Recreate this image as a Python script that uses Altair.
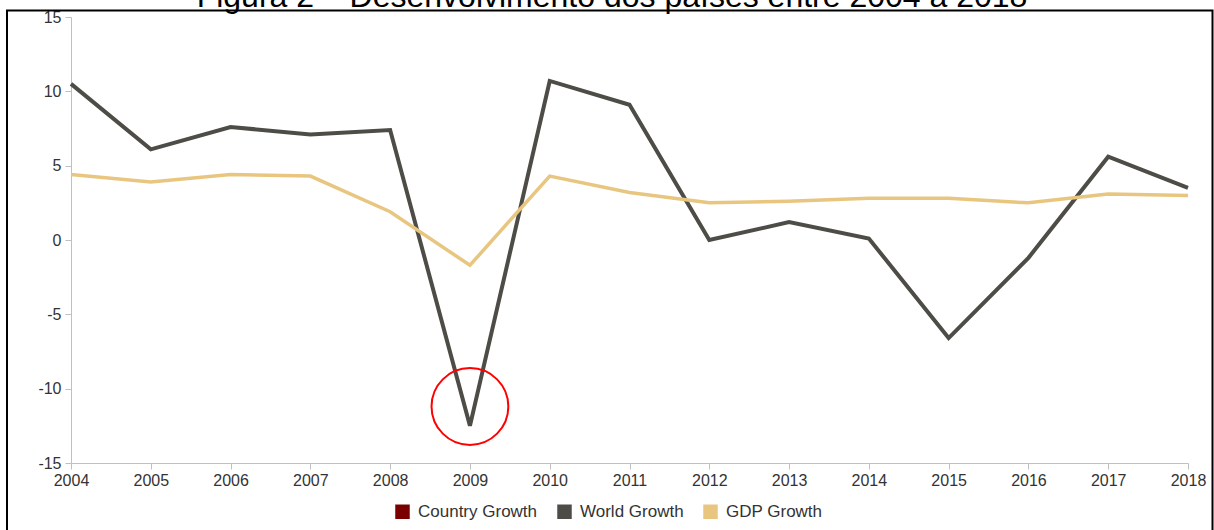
import altair as alt
import pandas as pd

# ---- data ----
years = list(range(2004, 2019))
world_growth = [10.5, 6.1, 7.6, 7.1, 7.4, -12.5, 10.7, 9.1, 0.0, 1.2, 0.1, -6.6, -1.2, 5.6, 3.5]
gdp_growth = [4.4, 3.9, 4.4, 4.3, 1.9, -1.7, 4.3, 3.2, 2.5, 2.6, 2.8, 2.8, 2.5, 3.1, 3.0]
series_names = ["Country Growth", "World Growth", "GDP Growth"]
series_colors = ["#7a0000", "#4d4c47", "#e8c680"]
y_ticks = [-15, -10, -5, 0, 5, 10, 15]
title_text = "Figura 2 – Desenvolvimento dos países entre 2004 a 2018"
highlight_year = [2009]
highlight_value = [-11.2]

FONT = "Liberation Sans"
W, H = 1117, 446

world_df = pd.DataFrame({"year": years, "value": world_growth})
gdp_df = pd.DataFrame({"year": years, "value": gdp_growth})

x_enc = alt.X("year:Q", scale=alt.Scale(domain=[2004, 2018], nice=False, zero=False),
              axis=alt.Axis(values=years, format="d", title=None, labelFlush=False,
                            labelOverlap=False))
y_enc = alt.Y("value:Q", scale=alt.Scale(domain=[-15, 15], nice=False),
              axis=alt.Axis(values=y_ticks, title=None, labelExpr="toString(datum.value)"))

world = alt.Chart(world_df).mark_line(strokeWidth=4, color=series_colors[1]).encode(x=x_enc, y=y_enc)
gdp = alt.Chart(gdp_df).mark_line(strokeWidth=3.5, color=series_colors[2]).encode(x=x_enc, y=y_enc)

# legend-only layer (points are placed outside the domain and clipped away)
legend_df = pd.DataFrame({"series": series_names, "year": [2004] * 3, "value": [-100] * 3})
legend_layer = alt.Chart(legend_df).mark_square(filled=True, clip=True, opacity=1).encode(
    x="year:Q", y="value:Q",
    color=alt.Color("series:N", scale=alt.Scale(domain=series_names, range=series_colors),
                    sort=series_names,
                    legend=alt.Legend(title=None, orient="none", direction="horizontal",
                                      legendX=323, legendY=486, symbolType="square",
                                      symbolSize=210, symbolStrokeWidth=0, symbolOpacity=1,
                                      labelFont=FONT, labelFontSize=17, labelColor="#333333",
                                      labelOffset=7, columnPadding=18, padding=0)))

circle_df = pd.DataFrame({"year": highlight_year, "value": highlight_value})
circle = alt.Chart(circle_df).mark_point(shape="circle", filled=False, color="#ff0000",
                                         strokeWidth=2, size=5900, opacity=1).encode(
    x="year:Q", y="value:Q")

one = pd.DataFrame({"a": [0]})
frame = alt.Chart(one).mark_rect(filled=False, stroke="#000000", strokeWidth=2).encode(
    x=alt.value(-64), x2=alt.value(1141.5), y=alt.value(-6.5), y2=alt.value(540))
title = alt.Chart(one).mark_text(text=title_text, font=FONT, fontSize=32, color="#000000",
                                 align="center", baseline="alphabetic").encode(
    x=alt.value(541), y=alt.value(-10.5))

chart = alt.layer(frame, title, world, gdp, legend_layer, circle).properties(
    width=W, height=H,
    autosize=alt.AutoSizeParams(type="none"),
    padding={"left": 71, "top": 17, "right": 26, "bottom": 67},
    background="#ffffff",
).configure_view(stroke=None).configure_axis(
    domainColor="#c0c0c0", tickColor="#c0c0c0", grid=False,
    labelFont=FONT, labelFontSize=16, labelColor="#333333",
    tickSize=6, labelPadding=3,
).configure_axisY(labelPadding=4)

chart.save("out.html", embed_options={"renderer": "svg", "actions": False})
